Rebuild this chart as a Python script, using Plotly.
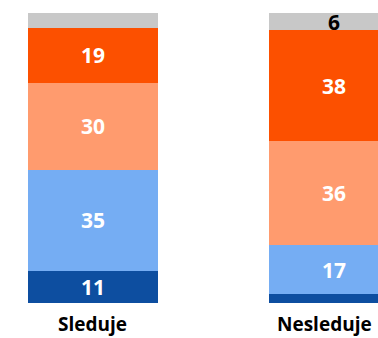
import plotly.graph_objects as go

# Data (percent shares, stacked bottom to top)
categories = ["Sleduje", "Nesleduje"]
series_names = ["s1", "s2", "s3", "s4", "s5"]
dark_blue = [11, 3]
light_blue = [35, 17]
salmon = [30, 36]
orange = [19, 38]
gray = [5, 6]

series = [dark_blue, light_blue, salmon, orange, gray]
colors = ["#0D4EA0", "#75ADF3", "#FF9B6E", "#FC5000", "#C8C8C8"]
text_colors = ["white", "white", "white", "white", "black"]

fig = go.Figure()
for name, vals, col, tcol in zip(series_names, series, colors, text_colors):
    fig.add_trace(go.Bar(
        x=categories,
        y=vals,
        name=name,
        marker_color=col,
        marker_line_width=0,
        text=[str(v) if v >= 6 else "" for v in vals],
        textposition="inside",
        insidetextanchor="middle",
        textangle=0,
        textfont=dict(family="Open Sans", size=21, color=tcol, weight="bold"),
        width=0.54,
        hoverinfo="skip",
    ))

# category labels below the bars (the right one is kept inside the canvas)
label_pos = [dict(x=categories[0], xanchor="center"), dict(x=1.0, xanchor="right")]
for cat, pos in zip(categories, label_pos):
    fig.add_annotation(
        text=cat, y=0, yref="y", yanchor="top", yshift=-6,
        xref="x" if pos["xanchor"] == "center" else "paper",
        x=pos["x"], xanchor=pos["xanchor"], xshift=0 if pos["xanchor"] == "center" else -4,
        showarrow=False,
        font=dict(family="Open Sans", size=19, color="black", weight="bold"),
    )

fig.update_layout(
    barmode="stack",
    width=378,
    height=338,
    margin=dict(l=0, r=0, t=13, b=35),
    paper_bgcolor="white",
    plot_bgcolor="white",
    showlegend=False,
    uniformtext=dict(minsize=21, mode="show"),
)
fig.update_xaxes(range=[-0.386, 1.183], showgrid=False, zeroline=False,
                 showline=False, showticklabels=False)
fig.update_yaxes(range=[0, 100], visible=False)

fig.write_html("out.html", config={"displayModeBar": False},
               post_script="document.body.style.margin='0';")
